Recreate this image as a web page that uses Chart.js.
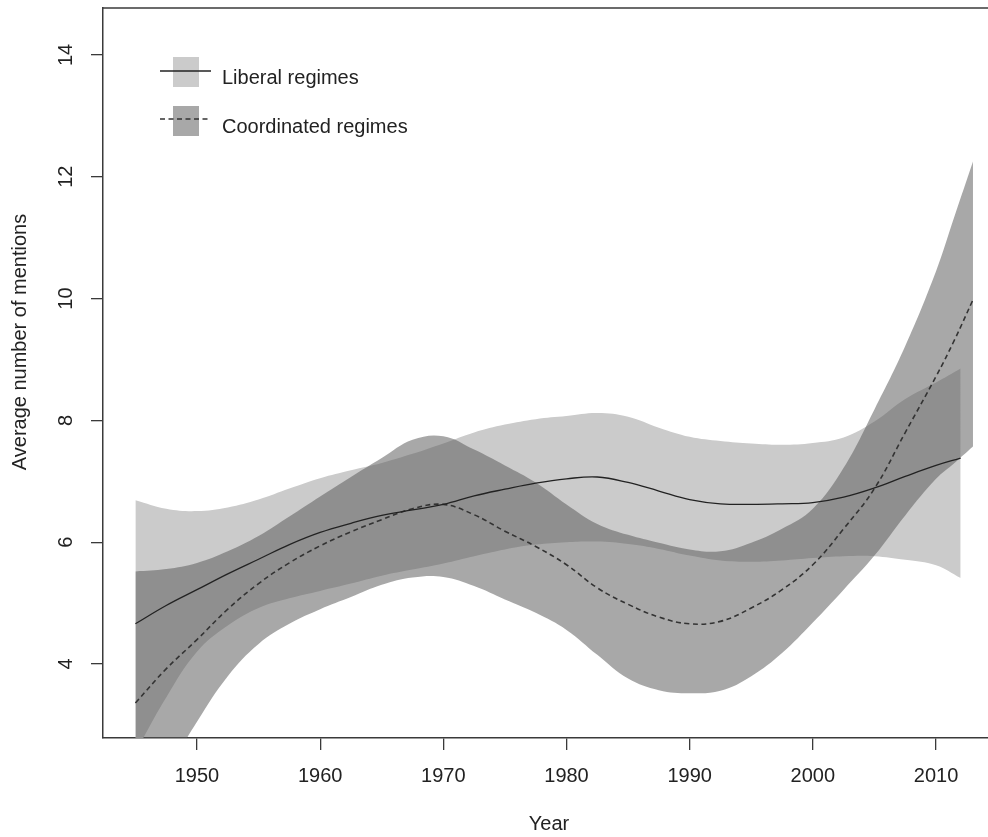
<!DOCTYPE html>
<html>
<head>
<meta charset="utf-8">
<script src="https://cdn.jsdelivr.net/npm/chart.js@4.4.1/dist/chart.umd.min.js"></script>
<style>
  html, body { margin: 0; padding: 0; background: #fff; }
  #wrap { width: 988px; height: 837px; }
</style>
</head>
<body>
<div id="wrap"><canvas id="chart" width="988" height="837"></canvas></div>
<script>
// Liberal regimes: fitted mean and confidence band
const libYears = [1945, 1947.5, 1950, 1952.5, 1955, 1957.5, 1960, 1962.5, 1965, 1967.5, 1970, 1972.5,
    1975, 1977.5, 1980, 1982.5, 1985, 1987.5, 1990, 1992.5, 1995, 1997.5, 2000, 2002.5, 2005, 2007.5, 2010, 2012];
const libMean = [4.66, 4.96, 5.22, 5.48, 5.72, 5.96, 6.16, 6.31, 6.44, 6.53, 6.62, 6.76,
    6.87, 6.97, 7.04, 7.07, 6.98, 6.84, 6.70, 6.63, 6.62, 6.63, 6.65, 6.74, 6.89, 7.08, 7.26, 7.38];
const libUpper = [6.69, 6.55, 6.51, 6.57, 6.70, 6.88, 7.05, 7.18, 7.30, 7.45, 7.62, 7.80,
    7.93, 8.02, 8.07, 8.12, 8.06, 7.88, 7.73, 7.66, 7.62, 7.60, 7.63, 7.72, 7.98, 8.35, 8.62, 8.85];
const libLower = [2.55, 3.45, 4.20, 4.63, 4.92, 5.08, 5.20, 5.32, 5.45, 5.55, 5.65, 5.77,
    5.88, 5.96, 6.00, 6.01, 5.97, 5.89, 5.78, 5.70, 5.68, 5.70, 5.74, 5.77, 5.77, 5.71, 5.62, 5.41];

// Coordinated regimes
const coordYears = [1945, 1947.5, 1950, 1952.5, 1955, 1957.5, 1960, 1962.5, 1965, 1967.5, 1970, 1972.5,
    1975, 1977.5, 1980, 1982.5, 1985, 1987.5, 1990, 1992.5, 1995, 1997.5, 2000, 2002.5, 2005, 2007.5, 2010, 2011.5, 2013];
const coordMean = [3.36, 3.92, 4.40, 4.90, 5.32, 5.66, 5.94, 6.17, 6.37, 6.55, 6.62, 6.45,
    6.18, 5.93, 5.63, 5.25, 4.98, 4.77, 4.66, 4.70, 4.92, 5.22, 5.63, 6.22, 6.88, 7.80, 8.72, 9.32, 9.98];
const coordUpper = [5.52, 5.56, 5.66, 5.85, 6.10, 6.42, 6.75, 7.07, 7.38, 7.68, 7.74, 7.52,
    7.26, 6.98, 6.62, 6.30, 6.12, 5.99, 5.88, 5.85, 5.99, 6.22, 6.55, 7.22, 8.18, 9.22, 10.45, 11.35, 12.25];
const coordLower = [1.20, 2.20, 3.05, 3.80, 4.33, 4.66, 4.90, 5.10, 5.30, 5.42, 5.43, 5.28,
    5.06, 4.84, 4.56, 4.15, 3.76, 3.57, 3.52, 3.56, 3.80, 4.18, 4.68, 5.22, 5.78, 6.44, 7.04, 7.30, 7.57];

const xTicks = [1950, 1960, 1970, 1980, 1990, 2000, 2010];
const yTicks = [4, 6, 8, 10, 12, 14];
const seriesNames = ['Liberal regimes', 'Coordinated regimes'];

const FONT = '"Liberation Sans", Arial, Helvetica, sans-serif';
const AXIS = '#3a3a3a';
const LIB_FILL = '#cbcbcb';
const COORD_FILL = 'rgba(88, 88, 88, 0.52)';
const TENSION = 0.4;

const pts = (xs, ys) => xs.map((x, i) => ({ x, y: ys[i] }));

// Draws the top frame line, tick labels, axis titles and the legend
const decorations = {
    id: 'decorations',
    afterDraw(chart) {
        const { ctx, chartArea: a, scales: { x, y } } = chart;
        ctx.save();
        ctx.strokeStyle = AXIS;
        ctx.lineWidth = 1.5;
        ctx.beginPath();
        ctx.moveTo(a.left, a.top);
        ctx.lineTo(a.right, a.top);
        ctx.stroke();

        ctx.fillStyle = '#222';
        ctx.font = '20px ' + FONT;
        ctx.textAlign = 'center';
        ctx.textBaseline = 'middle';
        xTicks.forEach(v => ctx.fillText(String(v), x.getPixelForValue(v), 776));
        yTicks.forEach(v => {
            ctx.save();
            ctx.translate(66, y.getPixelForValue(v));
            ctx.rotate(-Math.PI / 2);
            ctx.fillText(String(v), 0, 0);
            ctx.restore();
        });

        ctx.fillText('Year', 549, 824);
        ctx.save();
        ctx.translate(20, 342);
        ctx.rotate(-Math.PI / 2);
        ctx.fillText('Average number of mentions', 0, 0);
        ctx.restore();

        // legend
        ctx.fillStyle = LIB_FILL;
        ctx.fillRect(173, 57, 26, 30);
        ctx.fillStyle = COORD_FILL;
        ctx.fillRect(173, 106, 26, 30);
        ctx.strokeStyle = '#222';
        ctx.lineWidth = 1.3;
        ctx.beginPath();
        ctx.moveTo(160, 71);
        ctx.lineTo(211, 71);
        ctx.stroke();
        ctx.strokeStyle = '#333';
        ctx.lineWidth = 1.5;
        ctx.setLineDash([5, 3.5]);
        ctx.beginPath();
        ctx.moveTo(160, 119);
        ctx.lineTo(208, 119);
        ctx.stroke();
        ctx.setLineDash([]);
        ctx.fillStyle = '#222';
        ctx.textAlign = 'left';
        ctx.fillText(seriesNames[0], 222, 78);
        ctx.fillText(seriesNames[1], 222, 127);
        ctx.restore();
    }
};

new Chart(document.getElementById('chart'), {
    type: 'line',
    data: {
        datasets: [
            {
                label: seriesNames[0],
                data: pts(libYears, libMean),
                borderColor: '#222',
                borderWidth: 1.3,
                pointRadius: 0,
                fill: false,
                tension: TENSION
            },
            {
                label: seriesNames[1],
                data: pts(coordYears, coordMean),
                borderColor: '#333',
                borderWidth: 1.6,
                borderDash: [5, 3.5],
                pointRadius: 0,
                fill: false,
                tension: TENSION
            },
            {
                label: 'coord upper',
                data: pts(coordYears, coordUpper),
                borderWidth: 0,
                pointRadius: 0,
                backgroundColor: COORD_FILL,
                fill: '+1',
                tension: TENSION
            },
            {
                label: 'coord lower',
                data: pts(coordYears, coordLower),
                borderWidth: 0,
                pointRadius: 0,
                fill: false,
                tension: TENSION
            },
            {
                label: 'lib upper',
                data: pts(libYears, libUpper),
                borderWidth: 0,
                pointRadius: 0,
                backgroundColor: LIB_FILL,
                fill: '+1',
                tension: TENSION
            },
            {
                label: 'lib lower',
                data: pts(libYears, libLower),
                borderWidth: 0,
                pointRadius: 0,
                fill: false,
                tension: TENSION
            }
        ]
    },
    options: {
        responsive: false,
        animation: false,
        events: [],
        layout: { padding: { top: 8, left: 0, right: 0, bottom: 0 } },
        scales: {
            x: {
                type: 'linear',
                min: 1942.37,
                max: 2014.22,
                afterBuildTicks: s => { s.ticks = xTicks.map(v => ({ value: v })); },
                afterFit: s => { s.height = 99; },
                ticks: { display: false },
                grid: { drawOnChartArea: false, tickLength: 12, color: AXIS, lineWidth: 1.3 },
                border: { color: AXIS, width: 1.5 }
            },
            y: {
                type: 'linear',
                min: 2.785,
                max: 14.77,
                afterBuildTicks: s => { s.ticks = yTicks.map(v => ({ value: v })); },
                afterFit: s => { s.width = 103; },
                ticks: { display: false },
                grid: { drawOnChartArea: false, tickLength: 12, color: AXIS, lineWidth: 1.3 },
                border: { color: AXIS, width: 1.5 }
            }
        },
        plugins: {
            legend: { display: false },
            tooltip: { enabled: false }
        }
    },
    plugins: [decorations]
});
</script>
</body>
</html>
